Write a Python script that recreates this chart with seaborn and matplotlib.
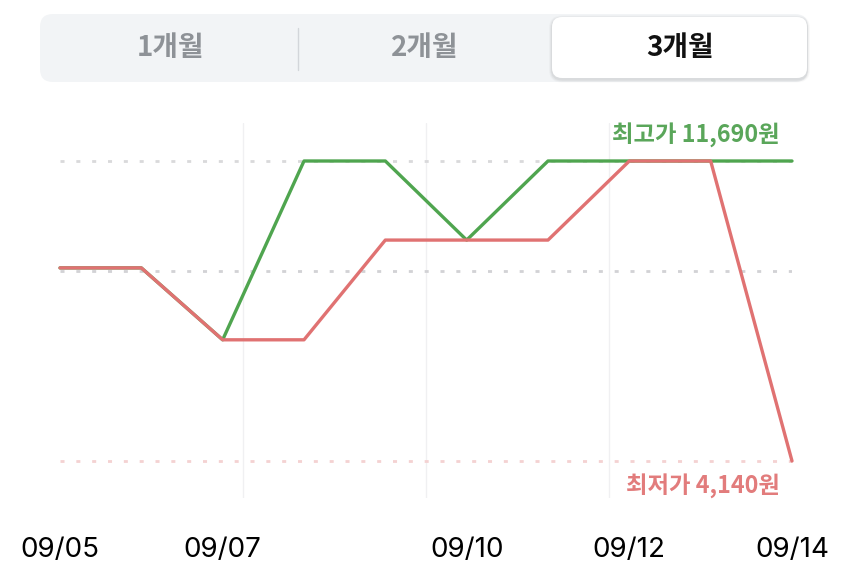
import numpy as np
import pandas as pd
import matplotlib
matplotlib.use("Agg")
import matplotlib.pyplot as plt
import seaborn as sns
from matplotlib.patches import FancyBboxPatch

# ---------------- data ----------------
dates = ["09/05", "09/06", "09/07", "09/08", "09/09", "09/10", "09/11", "09/12", "09/13", "09/14"]
high_prices = [9000, 9000, 7190, 11690, 11690, 9700, 11690, 11690, 11690, 11690]
low_prices = [9000, 9000, 7190, 7190, 9700, 9700, 9700, 11690, 11690, 4140]
tick_dates = ["09/05", "09/07", "09/10", "09/12", "09/14"]
period_labels = ["1개월", "2개월", "3개월"]
selected_period = "3개월"
max_price = 11690
min_price = 4140
ref_price = 8920

df = pd.DataFrame({"idx": np.arange(len(dates)), "date": dates,
                   "high": high_prices, "low": low_prices})

# ---------------- style ----------------
sns.set_theme(style="white")
plt.rcParams['font.family'] = ['Noto Sans CJK KR', 'DejaVu Sans']

GREEN = "#4FA54F"
GREEN_TXT = "#5AA65A"
RED = "#E07272"
RED_TXT = "#E27C7C"

W, H = 850, 574
fig = plt.figure(figsize=(W / 100, H / 100), dpi=100)
fig.patch.set_facecolor("white")


def px(x0, y0, x1, y1):
    return [x0 / W, 1 - y1 / H, (x1 - x0) / W, (y1 - y0) / H]


# ---------------- segmented control (pixel overlay) ----------------
bg = fig.add_axes([0, 0, 1, 1], zorder=0)
bg.set_xlim(0, W)
bg.set_ylim(H, 0)
bg.axis("off")


def rbox(x0, y0, x1, y1, r, **kw):
    bg.add_patch(FancyBboxPatch((x0 + r, y0 + r), (x1 - x0) - 2 * r, (y1 - y0) - 2 * r,
                                boxstyle=f"round,pad={r}", **kw))


rbox(40, 14, 808, 82, 13, fc="#F2F4F6", ec="none")
# selected segment soft shadow + box
for d, a in ((3, 0.025), (2, 0.035), (1, 0.045)):
    rbox(552 - d, 17 - d + 1.5, 807 + d, 78 + d + 1.5, 10 + d, fc="#000000", ec="none", alpha=a)
rbox(552, 17, 807, 78, 10, fc="white", ec="none")
bg.plot([298, 298], [28, 70], color="#D3D6DA", lw=1)

seg_centers = [170, 425, 680]
for lab, cx in zip(period_labels, seg_centers):
    sel = lab == selected_period
    bg.text(cx, 48, lab, ha="center", va="center", fontsize=20, fontweight="bold",
            color="#111111" if sel else "#8E9297")

# ---------------- main chart ----------------
ax = fig.add_axes(px(60, 123, 792, 498), zorder=1)
ax.patch.set_alpha(0)
k = (max_price - min_price) / 300.0
ax.set_xlim(0, len(dates) - 1)
ax.set_ylim(min_price - 37 * k, max_price + 38 * k)

for q in (0.25, 0.5, 0.75):
    ax.axvline((len(dates) - 1) * q, color="#F0F0F2", lw=1, zorder=0)

dash = (0, (1.45, 4.25))
ax.axhline(max_price, color="#D9D9DB", lw=2, ls=dash, zorder=1)
ax.axhline(ref_price, color="#D2D2D5", lw=2, ls=dash, zorder=1)
ax.axhline(min_price, color="#F4D2D2", lw=2, ls=dash, zorder=1)

sns.lineplot(data=df, x="idx", y="high", color=GREEN, lw=2.4, ax=ax, clip_on=False, zorder=3)
sns.lineplot(data=df, x="idx", y="low", color=RED, lw=2.4, ax=ax, clip_on=False, zorder=4)

ax.annotate(f"최고가 {max_price:,}원", xy=(len(dates) - 1, max_price), xytext=(-12, 26),
            textcoords="offset pixels", ha="right", va="center", fontsize=16.8,
            fontweight="bold", color=GREEN_TXT)
ax.annotate(f"최저가 {min_price:,}원", xy=(len(dates) - 1, min_price), xytext=(-12, -25),
            textcoords="offset pixels", ha="right", va="center", fontsize=16.8,
            fontweight="bold", color=RED_TXT)

ax.set_xticks([dates.index(d) for d in tick_dates])
ax.set_xticklabels(tick_dates, fontsize=20, color="black", family=["Inter", "DejaVu Sans"])
ax.tick_params(axis="x", length=0, pad=28)
ax.set_yticks([])
ax.set_xlabel("")
ax.set_ylabel("")
for s in ax.spines.values():
    s.set_visible(False)

fig.savefig("out.png", dpi=100, facecolor="white")
